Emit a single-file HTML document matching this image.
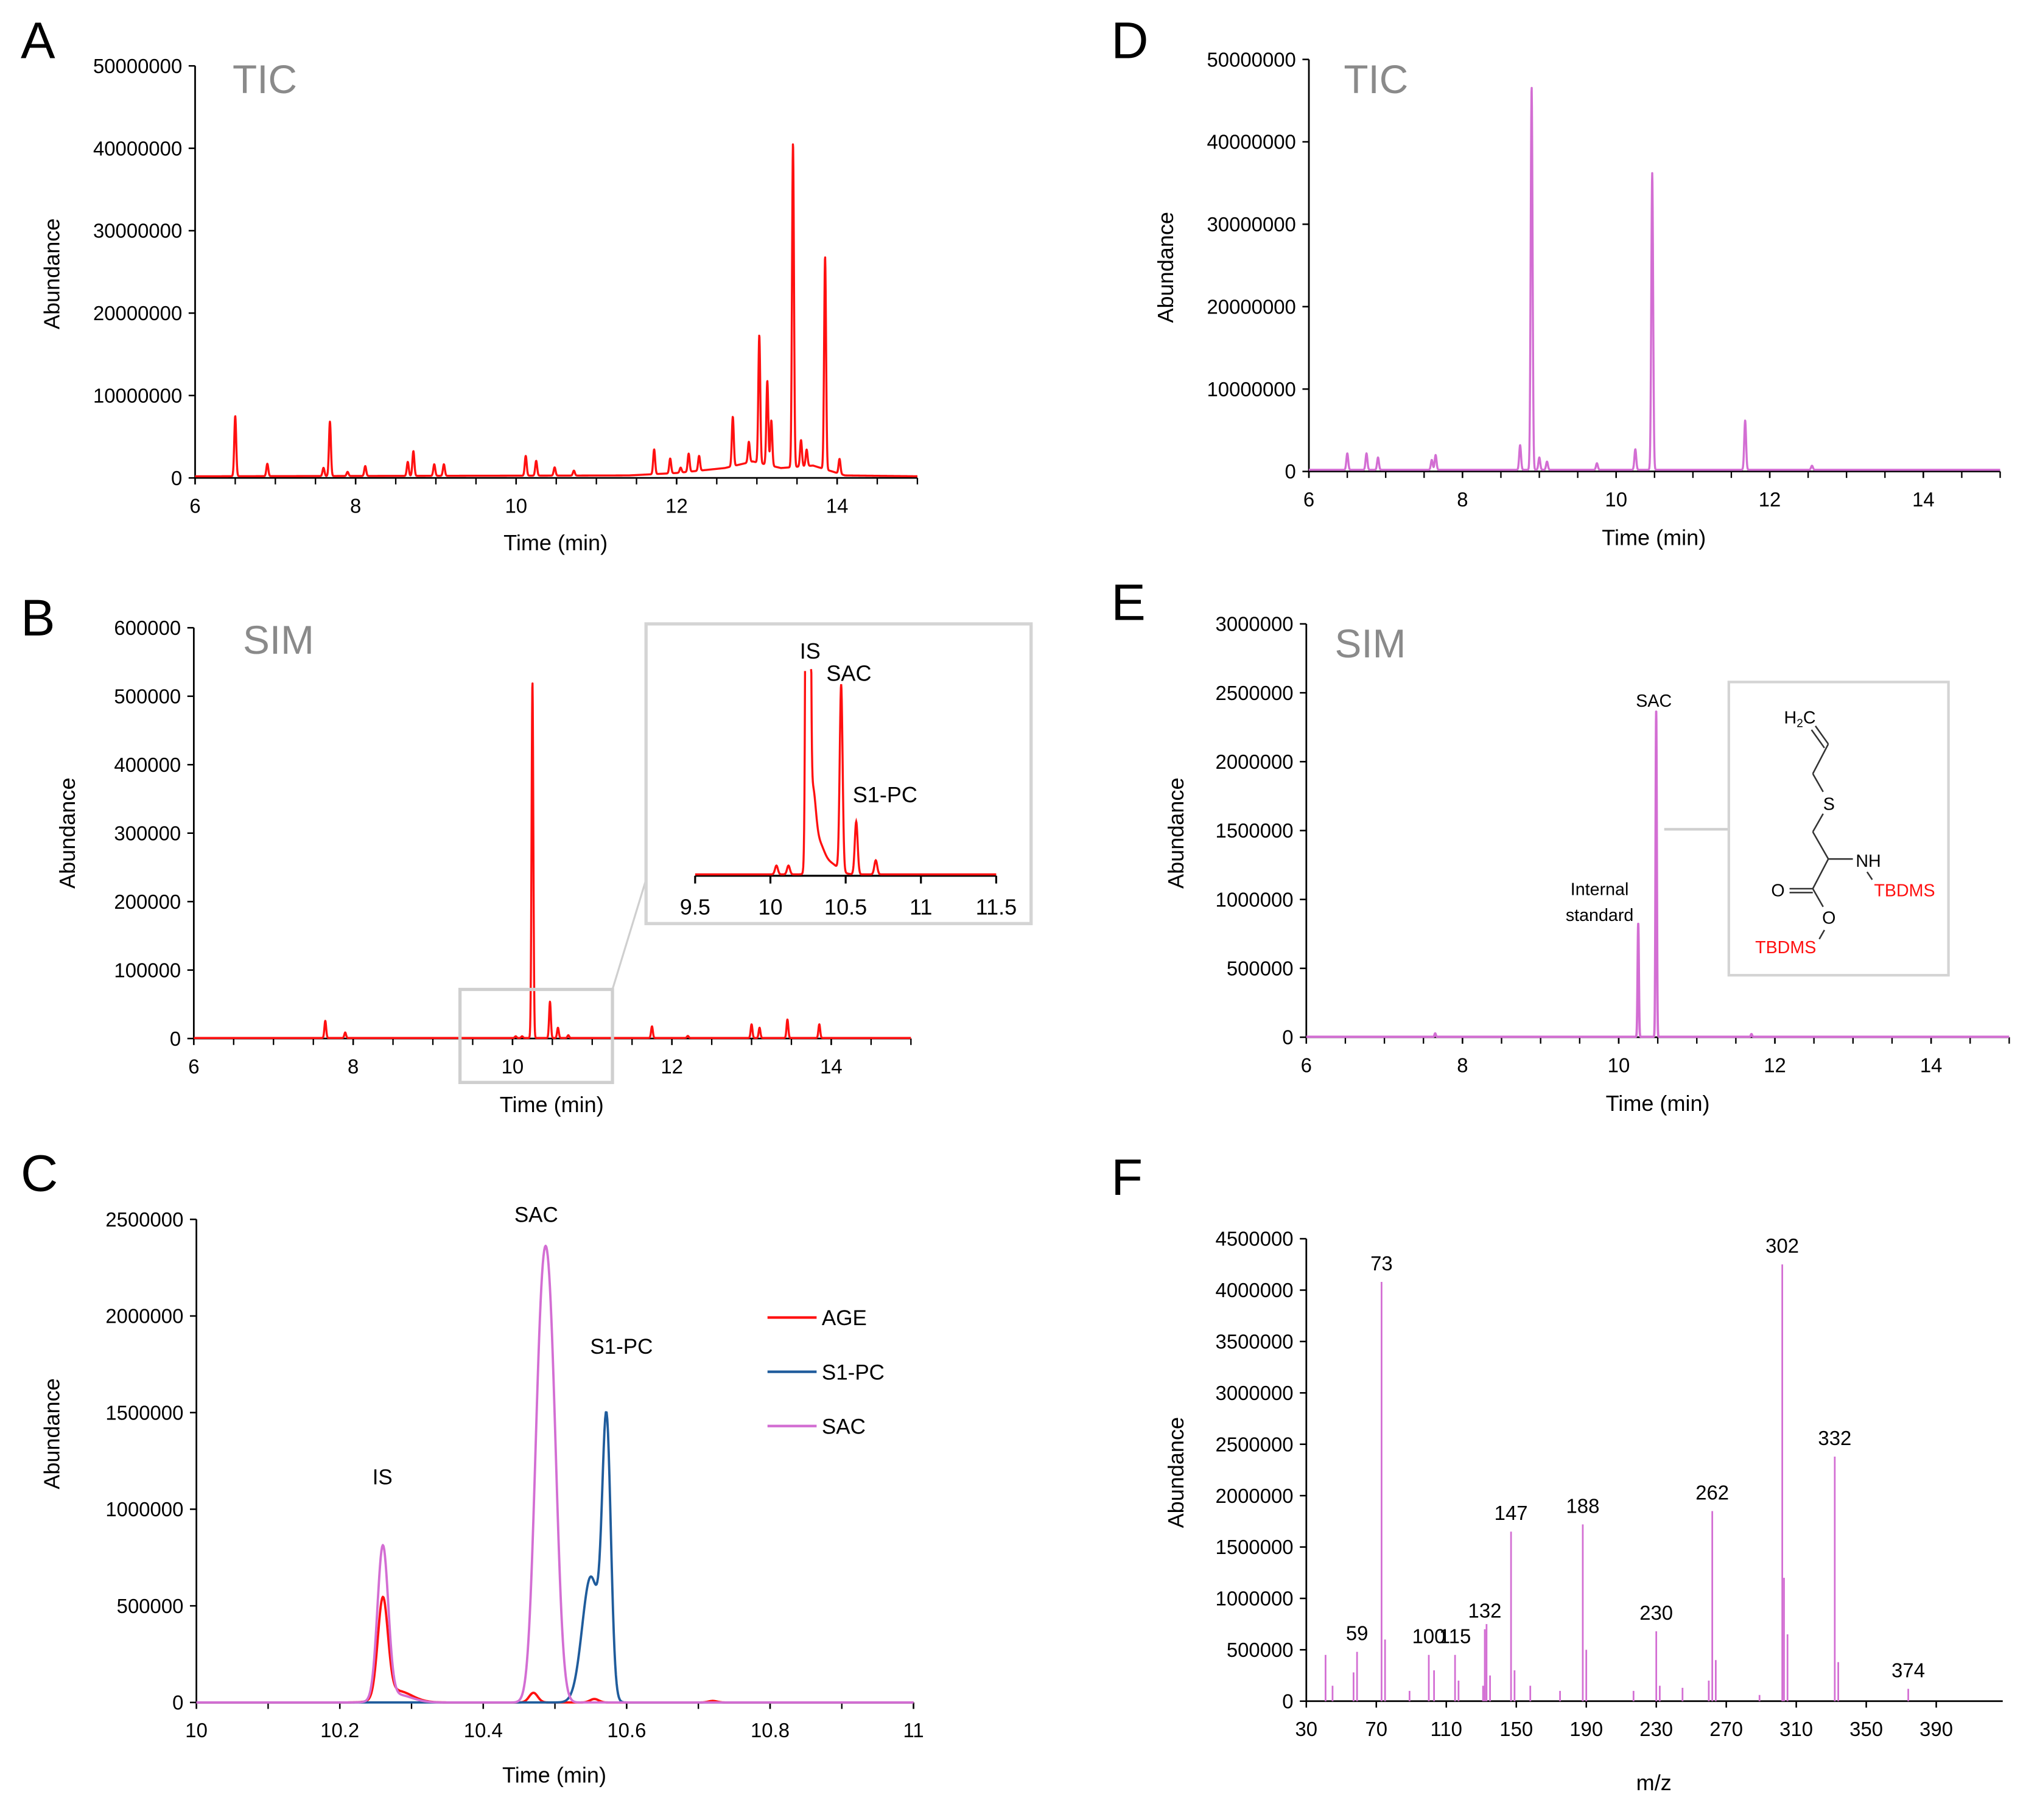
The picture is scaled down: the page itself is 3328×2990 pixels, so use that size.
<!DOCTYPE html>
<html><head><meta charset="utf-8"><style>
html,body{margin:0;padding:0;background:#fff}
svg{display:block}
text{font-family:"Liberation Sans",Arial,sans-serif}
</style></head><body>
<svg id="fig" xmlns="http://www.w3.org/2000/svg" width="3328" height="2990" viewBox="0 0 1568 1409" preserveAspectRatio="none">
<rect x="0" y="0" width="1568" height="1409" fill="#fff"/>
</svg>
<script>
// ---------- data ----------
const aTimes=[6.5,6.9,7.6,7.68,7.9,8.12,8.65,8.72,8.98,9.1,10.12,10.25,10.48,10.72,11.72,11.92,12.05,12.15,12.28,12.7,12.9,13.03,13.13,13.18,13.45,13.55,13.62,13.85,14.03];
const aHeights=[7.3e6,1.5e6,1.0e6,6.6e6,0.5e6,1.2e6,1.7e6,3.0e6,1.4e6,1.4e6,2.4e6,1.8e6,1.0e6,0.6e6,3.0e6,1.8e6,0.6e6,2.2e6,1.8e6,6.0e6,2.5e6,15.5e6,10.2e6,5.5e6,39.3e6,3.2e6,2.0e6,25.8e6,1.8e6];
const aBaseTimes=[6,11.4,12.0,12.6,12.95,13.3,13.7,14.1,15];
const aBaseVals=[2e5,3e5,6e5,1.2e6,2.0e6,1.2e6,1.5e6,3e5,2e5];
const bTimes=[7.65,7.9,10.04,10.12,10.25,10.47,10.57,10.7,11.75,12.2,13.0,13.1,13.45,13.85];
const bHeights=[25000,8000,2500,2500,520000,53000,15000,4000,17000,3000,20000,15000,27000,20000];
const bTailTimes=[10.28,10.32,10.4];
const bTailHeights=[20000,8000,3000];
const bTailSig=[0.02,0.035,0.05];
const cAgeTimes=[10.26,10.28,10.47,10.555,10.72];
const cAgeHeights=[510000,60000,50000,18000,8000];
const cAgeSig=[0.007,0.02,0.006,0.006,0.006];
const cS1Times=[10.55,10.572];
const cS1Heights=[650000,1380000];
const cS1Sig=[0.012,0.006];
const cSacTimes=[10.26,10.28,10.48,10.494];
const cSacHeights=[790000,40000,1550000,1550000];
const cSacSig=[0.0075,0.02,0.0095,0.0095];
const dTimes=[6.5,6.75,6.9,7.6,7.65,8.75,8.9,9.0,9.1,9.75,10.25,10.47,11.68,12.55];
const dHeights=[2.0e6,2.0e6,1.5e6,1.2e6,1.8e6,3.0e6,46.5e6,1.5e6,1.0e6,0.8e6,2.5e6,36.0e6,6.0e6,0.5e6];
const eTimes=[7.65,10.25,10.48,11.7];
const eHeights=[25000,820000,2360000,20000];
const fMz=[41,45,57,59,73,75,89,100,103,115,117,131,132,133,135,147,149,158,175,188,190,217,230,232,245,260,262,264,289,302,303,305,332,334,374];
const fAbund=[450000,150000,280000,480000,4080000,600000,100000,450000,300000,450000,200000,150000,700000,750000,250000,1650000,300000,150000,100000,1720000,500000,100000,680000,150000,130000,200000,1850000,400000,60000,4250000,1200000,650000,2380000,380000,120000];
const fLabelMz=[73,302,332,147,188,262,230,132,115,100,59,374];
const aYTicks=[0,10000000,20000000,30000000,40000000,50000000];
const bYTicks=[0,100000,200000,300000,400000,500000,600000];
const cYTicks=[0,500000,1000000,1500000,2000000,2500000];
const eYTicks=[0,500000,1000000,1500000,2000000,2500000,3000000];
const fYTicks=[0,500000,1000000,1500000,2000000,2500000,3000000,3500000,4000000,4500000];
const timeTicks=[6,8,10,12,14];
const cXTicks=[10,10.2,10.4,10.6,10.8,11];
const insetXTicks=[9.5,10,10.5,11,11.5];
const fXTicks=[30,70,110,150,190,230,270,310,350,390];

// ---------- helpers ----------
const NS="http://www.w3.org/2000/svg";
const svg=document.getElementById('fig');
function mk(tag,attrs,parent){const e=document.createElementNS(NS,tag);for(const k in attrs)e.setAttribute(k,attrs[k]);(parent||svg).appendChild(e);return e;}
function txt(s,x,y,size,anchor,fill,parent){const t=mk('text',{x:x,y:y,'font-size':size,'text-anchor':anchor||'middle',fill:fill||'#000'},parent);t.textContent=s;return t;}
function gsum(t,times,heights,sig){let v=0;for(let i=0;i<times.length;i++){const s=Array.isArray(sig)?sig[i]:sig;const d=(t-times[i])/s;if(Math.abs(d)<8)v+=heights[i]*Math.exp(-0.5*d*d);}return v;}
function interp(t,xs,ys){if(t<=xs[0])return ys[0];for(let i=1;i<xs.length;i++){if(t<=xs[i]){const f=(t-xs[i-1])/(xs[i]-xs[i-1]);return ys[i-1]+f*(ys[i]-ys[i-1]);}}return ys[ys.length-1];}

function axes(p,name){
  const g=mk('g',{});
  
  
  const sx=v=>p.left+(v-p.xmin)/(p.xmax-p.xmin)*(p.right-p.left);
  const sy=v=>p.bottom-v/p.ymax*(p.bottom-p.top);
  const ya=mk('line',{x1:p.left,y1:p.top,x2:p.left,y2:p.bottom,stroke:'#000','stroke-width':1.3},g);
  
  
  const xa=mk('line',{x1:p.left,y1:p.bottom,x2:p.right,y2:p.bottom,stroke:'#000','stroke-width':1.3},g);
  
  
  p.yticks.forEach(v=>{
    const y=sy(v);
    mk('line',{x1:p.left-5,y1:y,x2:p.left,y2:y,stroke:'#000','stroke-width':1.2},g);
    const t=txt(String(v),p.left-10,y+5.5,15.5,'end','#000',g);
    
    
  });
  if(p.minor){for(let v=p.xmin;v<=p.xmax+1e-9;v+=p.minor){const x=sx(v);mk('line',{x1:x,y1:p.bottom,x2:x,y2:p.bottom+5,stroke:'#000','stroke-width':1.1},g);}}
  p.xticks.forEach(v=>{
    const x=sx(v);
    mk('line',{x1:x,y1:p.bottom,x2:x,y2:p.bottom+5,stroke:'#000','stroke-width':1.2},g);
    const t=txt(String(v),x,p.bottom+27,15.5,'middle','#000',g);
    
    
  });
  const xt=txt(p.xtitle,p.xtx,p.xty,17,'middle','#000',g);
  
  
  const yt=txt('Abundance',0,0,17,'middle','#000',g);
  yt.setAttribute('transform','translate('+p.ytx+','+p.yty+') rotate(-90)');
  
  
  return {sx,sy,g};
}
function trace(p,ax,fn,color,name,width,step){
  let d='';const st=step||0.003;
  for(let t=p.xmin;t<=p.xmax+1e-9;t+=st){let v=fn(t);let y=ax.sy(v);d+=(d?'L':'M')+ax.sx(t).toFixed(2)+','+y.toFixed(2);}
  const path=mk('path',{d:d,fill:'none',stroke:color,'stroke-width':width||1.6,'stroke-linejoin':'round'});
  
  
  return path;
}
function letter(s,x,y){const t=txt(s,x,y,40,'start','#000');}
function gray(s,x,y){const t=txt(s,x,y,31,'start','#8a8a8a');}

const RED='#ff1010', VIO='#d36ed3', BLUE='#1f5c9c';

// ---------- Panel A ----------
letter('A',16,45);
const pA={left:151,right:710,top:51,bottom:370,xmin:6,xmax:15,ymax:50e6,yticks:aYTicks,xticks:timeTicks,minor:0.5,xtitle:'Time (min)',xtx:430,xty:426,ytx:46,yty:212};
const axA=axes(pA,'panel-a');
gray('TIC',180,72);
trace(pA,axA,t=>gsum(t,aTimes,aHeights,0.012)+interp(t,aBaseTimes,aBaseVals),RED,'panel-a-tic-trace',1.6);

// ---------- Panel B ----------
letter('B',16,492);
const pB={left:150,right:705,top:486,bottom:804,xmin:6,xmax:15,ymax:600000,yticks:bYTicks,xticks:timeTicks,minor:0.5,xtitle:'Time (min)',xtx:427,xty:861,ytx:58,yty:645};
const axB=axes(pB,'panel-b');
gray('SIM',188,506);
trace(pB,axB,t=>gsum(t,bTimes,bHeights,0.011)+800,RED,'panel-b-sim-trace',1.6);
const zb=mk('rect',{x:356,y:766,width:118,height:72,fill:'none',stroke:'#cfcfcf','stroke-width':2.5});


const cl=mk('line',{x1:474,y1:766,x2:500,y2:681,stroke:'#cfcfcf','stroke-width':1.5});


const ib=mk('rect',{x:500,y:483,width:298,height:232,fill:'#fff',stroke:'#d4d4d4','stroke-width':2.5});


const pI={left:538,right:771,xmin:9.5,xmax:11.5,base:678,scale:0.00272,clip:518};
const ig=mk('g',{});


const isx=v=>pI.left+(v-pI.xmin)/(pI.xmax-pI.xmin)*(pI.right-pI.left);
mk('line',{x1:pI.left,y1:pI.base,x2:pI.right,y2:pI.base,stroke:'#000','stroke-width':1.5},ig);
insetXTicks.forEach(v=>{mk('line',{x1:isx(v),y1:pI.base,x2:isx(v),y2:pI.base+6,stroke:'#000','stroke-width':1.5},ig);const t=txt(String(v),isx(v),708,17,'middle','#000',ig);});
{let d='';for(let t=9.5;t<=11.5+1e-9;t+=0.002){const v=gsum(t,bTimes,bHeights,0.0095)+gsum(t,bTailTimes,bTailHeights,bTailSig)+400;let y=pI.base-v*pI.scale;if(y<pI.clip){d+='M'+isx(t).toFixed(2)+','+pI.clip;continue;}d+=(d?'L':'M')+isx(t).toFixed(2)+','+y.toFixed(2);}
const ip=mk('path',{d:d,fill:'none',stroke:RED,'stroke-width':1.6},ig);}
[['IS',627,510],['SAC',657,527],['S1-PC',685,621]].forEach(a=>{const t=txt(a[0],a[1],a[2],17,'middle','#000',ig);});

// ---------- Panel C ----------
letter('C',16,922);
const pC={left:152,right:707,top:944,bottom:1318,xmin:10,xmax:11,ymax:2500000,yticks:cYTicks,xticks:cXTicks,minor:0.1,xtitle:'Time (min)',xtx:429,xty:1380,ytx:46,yty:1110};
const axC=axes(pC,'panel-c');
trace(pC,axC,t=>gsum(t,cAgeTimes,cAgeHeights,cAgeSig),RED,'age-trace',1.8,0.001);
trace(pC,axC,t=>gsum(t,cS1Times,cS1Heights,cS1Sig),BLUE,'s1-pc-trace',1.8,0.001);
trace(pC,axC,t=>gsum(t,cSacTimes,cSacHeights,cSacSig),VIO,'sac-trace',1.8,0.001);
[['IS',296,1149],['SAC',415,946],['S1-PC',481,1048]].forEach(a=>{const t=txt(a[0],a[1],a[2],16.5,'middle','#000');});
[['AGE',RED,1020],['S1-PC',BLUE,1062],['SAC',VIO,1104]].forEach(a=>{
  const l=mk('line',{x1:594,y1:a[2],x2:632,y2:a[2],stroke:a[1],'stroke-width':2});
  
  
  const t=txt(a[0],636,a[2]+6,16.5,'start','#000');
  
  
});

// ---------- Panel D ----------
letter('D',860,45);
const pD={left:1013,right:1548,top:46,bottom:365,xmin:6,xmax:15,ymax:50e6,yticks:aYTicks,xticks:timeTicks,minor:0.5,xtitle:'Time (min)',xtx:1280,xty:422,ytx:908,yty:207};
const axD=axes(pD,'panel-d');
gray('TIC',1040,72);
trace(pD,axD,t=>gsum(t,dTimes,dHeights,0.012)+2e5,VIO,'panel-d-tic-trace',1.6);

// ---------- Panel E ----------
letter('E',860,480);
const pE={left:1011,right:1555,top:483,bottom:803,xmin:6,xmax:15,ymax:3000000,yticks:eYTicks,xticks:timeTicks,minor:0.5,xtitle:'Time (min)',xtx:1283,xty:860,ytx:916,yty:645};
const axE=axes(pE,'panel-e');
gray('SIM',1033,509);
trace(pE,axE,t=>gsum(t,eTimes,eHeights,0.008)+3000,VIO,'panel-e-sim-trace',1.8,0.002);
{const t=txt('SAC',1280,547,13.5,'middle','#000');}
{const t=txt('Internal',1238,693,13.5,'middle','#000');
 const t2=txt('standard',1238,713,13.5,'middle','#000');}
{const l=mk('line',{x1:1288,y1:642,x2:1338,y2:642,stroke:'#cfcfcf','stroke-width':2});
 const b=mk('rect',{x:1338,y:528,width:170,height:227,fill:'#fff',stroke:'#d4d4d4','stroke-width':2});}
{const sg=mk('g',{stroke:'#333','stroke-width':1.2,fill:'none'});
 
 
 const bonds=[[1405,562,1415,576],[1402,565,1412,579],[1415,576,1403,599],[1403,599,1411,613],[1411,630,1403,644],[1403,644,1415,665],[1415,665,1434,665],[1445,675,1449,681],[1415,665,1403,688],[1403,688,1385,688],[1403,691,1385,691],[1403,688,1411,702],[1412,720,1408,727]];
 bonds.forEach(b=>mk('line',{x1:b[0],y1:b[1],x2:b[2],y2:b[3]},sg));
 const at=[['S',1415.5,627,'#000'],['NH',1446,671,'#000'],['O',1376,694,'#000'],['O',1415.5,715,'#000'],['TBDMS',1474,694,'#ff1010'],['TBDMS',1382,738,'#ff1010']];
 at.forEach(a=>{const t=txt(a[0],a[1],a[2],13.5,'middle',a[3]);});
 const h=mk('text',{x:1393,y:560,'font-size':13.5,'text-anchor':'middle',fill:'#000'});
 
 
 h.innerHTML='H<tspan font-size="9" dy="3">2</tspan><tspan dy="-3">C</tspan>';
}

// ---------- Panel F ----------
letter('F',860,925);
const pF={left:1011,right:1550,top:959,bottom:1317,xmin:30,xmax:428,ymax:4500000,yticks:fYTicks,xticks:fXTicks,xtitle:'m/z',xtx:1280,xty:1386,ytx:916,yty:1140};
const axF=axes(pF,'panel-f');
fMz.forEach((m,i)=>{
  const b=mk('line',{x1:axF.sx(m),y1:pF.bottom,x2:axF.sx(m),y2:axF.sy(fAbund[i]),stroke:VIO,'stroke-width':1.3});
  
  
});
fLabelMz.forEach(m=>{
  const i=fMz.indexOf(m);
  const t=txt(String(m),axF.sx(m),axF.sy(fAbund[i])-9,15.5,'middle','#000');
  
  
});
</script>
</body></html>
